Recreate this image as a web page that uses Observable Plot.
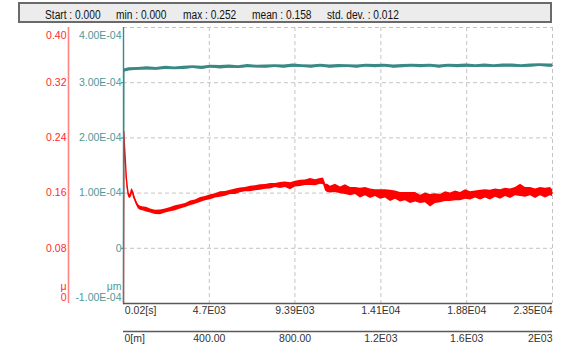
<!DOCTYPE html>
<html>
<head>
<meta charset="utf-8">
<script src="https://cdn.jsdelivr.net/npm/d3@7"></script>
<script src="https://cdn.jsdelivr.net/npm/@observablehq/plot@0.6"></script>
<style>
  html, body { margin: 0; padding: 0; background: #fff; }
  #wrap { position: relative; width: 574px; height: 349px; overflow: hidden; font-family: "Liberation Sans", Arial, sans-serif; }
  #hdr { position: absolute; left: 18px; top: 2px; width: 534px; height: 21px; box-sizing: border-box;
         border: 2px solid #6a6a6a; background: #ececec; }
  .st { position: absolute; top: 5px; font-size: 12px; color: #111; white-space: nowrap;
        transform: scaleX(0.85); transform-origin: left center; line-height: 13px; }
  #chart { position: absolute; left: 0; top: 0; }
</style>
</head>
<body>
<div id="wrap">
  <div id="chart"></div>
  <div id="hdr"></div>
</div>
<script>
// ---- header statistics ----
const statLabels = ["Start : 0.000", "min : 0.000", "max : 0.252", "mean : 0.158", "std. dev. : 0.012"];
const statLeft = [45, 116, 183, 252, 327];

// ---- x axis ticks (time, seconds) ----
const timeTicks = [20, 4700, 9390, 14100, 18800, 23500];
const timeLabels = ["0.02[s]", "4.7E03", "9.39E03", "1.41E04", "1.88E04", "2.35E04"];
// ---- secondary x axis (distance, m) ----
const distTicks = [0, 400, 800, 1200, 1600, 2000];
const distLabels = ["0[m]", "400.00", "800.00", "1.2E03", "1.6E03", "2E03"];
const secondsPerMetre = 11.75;

// ---- left (red) axis ----
const redTicks = [0, 0.08, 0.16, 0.24, 0.32, 0.40];
const redLabels = ["0", "0.08", "0.16", "0.24", "0.32", "0.40"];
// ---- green axis (values in units of 1E-04) ----
const greenTicks = [-1, 0, 1, 2, 3, 4];
const greenLabels = ["-1.00E-04", "0", "1.00E-04", "2.00E-04", "3.00E-04", "4.00E-04"];

// ---- red series (μ) ----
const redTime = [
  0, 20, 60, 110, 160, 220, 270, 330, 380, 440,
  490, 550, 600, 700, 820, 930, 1100, 1260, 1480, 1750,
  2030, 2300, 2580, 2850, 3120, 3400, 3670, 3940, 4220, 4490,
  4770, 5040, 5310, 5590, 5860, 6140, 6410, 6680, 6960, 7230,
  7500, 7780, 8050, 8330, 8600, 8870, 9150, 9420, 9700, 9970,
  10240, 10520, 10790, 10960, 11070, 11180, 11340, 11610, 11890, 12160,
  12440, 12710, 12980, 13260, 13530, 13800, 14080, 14350, 14630, 14900,
  15170, 15450, 15720, 16000, 16270, 16540, 16820, 17090, 17370, 17640,
  17910, 18190, 18460, 18740, 19010, 19280, 19560, 19830, 20100, 20380,
  20650, 20930, 21200, 21470, 21750, 22020, 22300, 22570, 22840, 23120,
  23390, 23500
];
const redMid = [
  0, 0.249, 0.227, 0.204, 0.181, 0.166, 0.158, 0.155, 0.156, 0.162,
  0.163, 0.157, 0.153, 0.146, 0.140, 0.138, 0.137, 0.136, 0.134, 0.132,
  0.132, 0.134, 0.136, 0.138, 0.140, 0.142, 0.145, 0.147, 0.150, 0.152,
  0.154, 0.156, 0.158, 0.159, 0.161, 0.162, 0.164, 0.165, 0.166, 0.167,
  0.168, 0.169, 0.170, 0.171, 0.171, 0.172, 0.170, 0.173, 0.174, 0.175,
  0.176, 0.175, 0.177, 0.177, 0.168, 0.167, 0.165, 0.167, 0.164, 0.165,
  0.162, 0.163, 0.160, 0.162, 0.159, 0.160, 0.158, 0.159, 0.156, 0.157,
  0.154, 0.155, 0.153, 0.154, 0.151, 0.153, 0.149, 0.152, 0.152, 0.155,
  0.154, 0.156, 0.155, 0.158, 0.156, 0.158, 0.157, 0.159, 0.157, 0.160,
  0.158, 0.161, 0.159, 0.162, 0.164, 0.161, 0.162, 0.159, 0.162, 0.160,
  0.162, 0.160
];
const redSpread = [
  0, 0.003, 0.005, 0.006, 0.005, 0.004, 0.003, 0.003, 0.003, 0.004,
  0.003, 0.004, 0.003, 0.003, 0.003, 0.003, 0.003, 0.0035, 0.003, 0.003,
  0.0035, 0.003, 0.003, 0.0035, 0.003, 0.003, 0.0035, 0.003, 0.0035, 0.003,
  0.0035, 0.003, 0.004, 0.0035, 0.003, 0.004, 0.0035, 0.003, 0.004, 0.0035,
  0.004, 0.0035, 0.004, 0.003, 0.0045, 0.004, 0.005, 0.004, 0.0045, 0.004,
  0.005, 0.0045, 0.004, 0.005, 0.005, 0.006, 0.005, 0.006, 0.005, 0.007,
  0.006, 0.005, 0.007, 0.006, 0.007, 0.005, 0.007, 0.006, 0.008, 0.006,
  0.007, 0.006, 0.008, 0.007, 0.006, 0.007, 0.009, 0.007, 0.006, 0.007,
  0.006, 0.007, 0.006, 0.007, 0.006, 0.005, 0.007, 0.006, 0.007, 0.006,
  0.007, 0.006, 0.007, 0.006, 0.009, 0.007, 0.006, 0.007, 0.006, 0.007,
  0.006, 0.005
];

// ---- green series (μm, units of 1E-04) ----
const greenTime = [
  0, 20, 300, 800, 1300, 1800, 2300, 2800, 3300, 3800,
  4300, 4800, 5300, 5800, 6300, 6800, 7300, 7800, 8300, 8800,
  9300, 9800, 10300, 10800, 11300, 11800, 12300, 12800, 13300, 13800,
  14300, 14800, 15300, 15800, 16300, 16800, 17300, 17800, 18300, 18800,
  19300, 19800, 20300, 20800, 21300, 21800, 22300, 22800, 23300, 23500
];
const greenMid = [
  0, 3.22, 3.24, 3.25, 3.26, 3.25, 3.27, 3.26, 3.27, 3.28,
  3.27, 3.29, 3.28, 3.29, 3.28, 3.30, 3.29, 3.29, 3.30, 3.29,
  3.31, 3.30, 3.29, 3.31, 3.29, 3.30, 3.30, 3.29, 3.31, 3.30,
  3.31, 3.29, 3.30, 3.31, 3.30, 3.31, 3.29, 3.31, 3.30, 3.31,
  3.30, 3.31, 3.30, 3.31, 3.31, 3.30, 3.31, 3.32, 3.31, 3.31
];
const greenSpread = [
  0, 0.03, 0.03, 0.025, 0.03, 0.025, 0.03, 0.025, 0.03, 0.025,
  0.03, 0.025, 0.03, 0.03, 0.025, 0.03, 0.025, 0.03, 0.025, 0.03,
  0.03, 0.025, 0.03, 0.025, 0.03, 0.03, 0.025, 0.03, 0.025, 0.03,
  0.025, 0.03, 0.03, 0.025, 0.03, 0.025, 0.03, 0.025, 0.03, 0.03,
  0.025, 0.03, 0.025, 0.03, 0.03, 0.025, 0.03, 0.025, 0.03, 0.03
];

// colours
const RED = "#ff0000", RED_TXT = "#ff2b2b", RED_AXIS = "#ff8484";
const TEAL = "#3a8985", TEAL_TXT = "#4e9995";
const GRID = "#c4c4c4", DARK = "#5a5a5a", TXT = "#333";

// green values are plotted on the shared y scale: -1..4 (E-04) ↔ 0..0.40
const g2y = v => (v + 1) * 0.08;

const redData = redTime.map((t, i) => ({t, mid: redMid[i], lo: redMid[i] - redSpread[i], hi: redMid[i] + redSpread[i]}));
const greenData = greenTime.map((t, i) => ({t, mid: g2y(greenMid[i]), lo: g2y(greenMid[i] - greenSpread[i]), hi: g2y(greenMid[i] + greenSpread[i])}));

const distPos = distTicks.map(d => d * secondsPerMetre);
const fs = 10.5;
const tl = (arr, labels) => d => labels[arr.indexOf(d)];

const midIdx = [1, 2, 3, 4];
const redMidTicks = midIdx.map(i => redTicks[i]);
const greenMidPos = midIdx.map(i => g2y(greenTicks[i]));
const greenPos = greenTicks.map(g2y);

const ax = {label: null, tickSize: 0, tickPadding: 3};

const chart = Plot.plot({
  width: 574,
  height: 349,
  marginTop: 27,
  marginBottom: 46,
  marginLeft: 123,
  marginRight: 22,
  style: {fontFamily: "'Liberation Sans', Arial, sans-serif", fontSize: fs + "px", background: "transparent"},
  x: {domain: [0, 23500], axis: null, label: null},
  y: {domain: [0, 0.4], axis: null, label: null},
  marks: [
    // grid
    Plot.gridY({ticks: redTicks.slice(1), stroke: GRID, strokeOpacity: 1, strokeDasharray: "4,3"}),
    Plot.gridX({ticks: timeTicks.slice(1), stroke: GRID, strokeOpacity: 1, strokeDasharray: "4,3"}),
    // x axis lines
    Plot.ruleY([0], {stroke: DARK, strokeWidth: 1.6}),
    Plot.ruleY([0], {stroke: DARK, strokeWidth: 1.6, dy: 28}),
    // time axis labels
    Plot.axisX({...ax, ticks: [timeTicks[0]], tickFormat: tl(timeTicks, timeLabels), textAnchor: "start", dx: 1, fill: TXT}),
    Plot.axisX({...ax, ticks: timeTicks.slice(1, 5), tickFormat: tl(timeTicks, timeLabels), fill: TXT}),
    Plot.axisX({...ax, ticks: [timeTicks[5]], tickFormat: tl(timeTicks, timeLabels), textAnchor: "end", fill: TXT}),
    // distance axis labels
    Plot.axisX({...ax, ticks: [distPos[0]], tickFormat: tl(distPos, distLabels), textAnchor: "start", dx: 1, dy: 28, fill: TXT}),
    Plot.axisX({...ax, ticks: distPos.slice(1, 5), tickFormat: tl(distPos, distLabels), dy: 28, fill: TXT}),
    Plot.axisX({...ax, ticks: [distPos[5]], tickFormat: tl(distPos, distLabels), textAnchor: "end", dy: 28, fill: TXT}),
    // red axis (offset left)
    Plot.ruleX([0], {stroke: RED_AXIS, strokeWidth: 1.6, dx: -55}),
    Plot.axisY({...ax, tickPadding: 2, ticks: redMidTicks, tickFormat: tl(redTicks, redLabels), dx: -55, fill: RED_TXT}),
    Plot.axisY({...ax, tickPadding: 2, ticks: [0.4], tickFormat: tl(redTicks, redLabels), dx: -55, dy: 8, fill: RED_TXT}),
    Plot.axisY({...ax, tickPadding: 2, ticks: [0], tickFormat: tl(redTicks, redLabels), dx: -55, dy: -6, fill: RED_TXT}),
    Plot.axisY({...ax, tickPadding: 2, ticks: [0], tickFormat: () => "μ", dx: -55, dy: -17, fill: RED_TXT}),
    // green axis
    Plot.axisY({label: null, ticks: greenMidPos, tickFormat: tl(greenPos, greenLabels), tickSize: 2, tickPadding: 0, stroke: TEAL, fill: TEAL_TXT}),
    Plot.axisY({...ax, tickPadding: 2, ticks: [greenPos[5]], tickFormat: tl(greenPos, greenLabels), dy: 8, fill: TEAL_TXT}),
    Plot.axisY({...ax, tickPadding: 2, ticks: [greenPos[0]], tickFormat: tl(greenPos, greenLabels), dy: -6, fill: TEAL_TXT}),
    Plot.axisY({...ax, tickPadding: 2, ticks: [greenPos[0]], tickFormat: () => "μm", dy: -17, fill: TEAL_TXT}),
    // red series
    Plot.areaY(redData, {x: "t", y1: "lo", y2: "hi", fill: RED, fillOpacity: 1}),
    Plot.line(redData, {x: "t", y: "mid", stroke: RED, strokeWidth: 1.3}),
    // green series
    Plot.areaY(greenData, {x: "t", y1: "lo", y2: "hi", fill: TEAL, fillOpacity: 1}),
    Plot.line(greenData, {x: "t", y: "mid", stroke: TEAL, strokeWidth: 1.2}),
    // green axis line (plot left edge)
    Plot.ruleX([0], {stroke: TEAL, strokeWidth: 1.4})
  ]
});
document.getElementById("chart").appendChild(chart);

const hdr = document.getElementById("hdr");
statLabels.forEach((s, i) => {
  const el = document.createElement("span");
  el.className = "st";
  el.textContent = s;
  el.style.left = (statLeft[i] - 20) + "px";
  hdr.appendChild(el);
});
</script>
</body>
</html>
